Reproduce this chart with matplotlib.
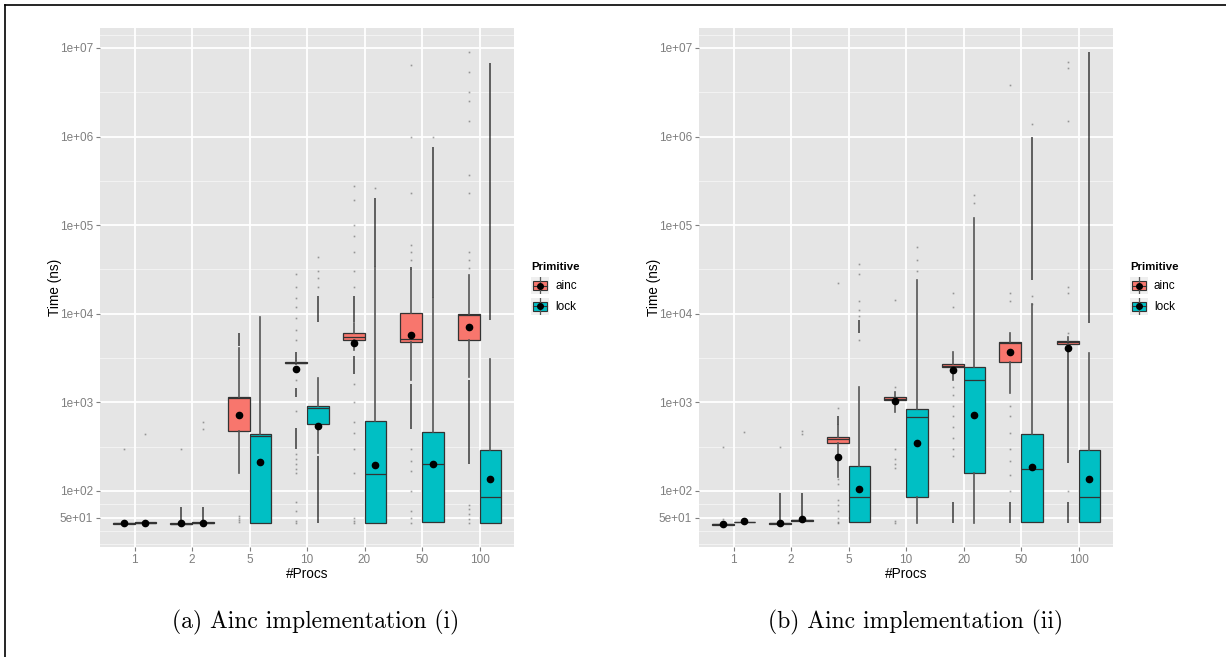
import numpy as np
import matplotlib
matplotlib.use("Agg")
import matplotlib.pyplot as plt
from matplotlib.lines import Line2D
from matplotlib.patches import Rectangle

plt.rcParams['font.family'] = ['Liberation Sans', 'DejaVu Sans']

procs = ["1", "2", "5", "10", "20", "50", "100"]
primitives = ["ainc", "lock"]
colors = {"ainc": "#F8766D", "lock": "#00BFC4"}
captions = ["(a) Ainc implementation (i)", "(b) Ainc implementation (ii)"]

# box stats per #procs: (whisker low, q1, median, q3, whisker high), in ns
a_ainc_stats = [(42.0, 42.5, 43.0, 43.5, 44.5), (41.5, 42.0, 42.5, 43.0, 44.0),
                (161, 478, 1112, 1160, 4070), (2700, 2780, 2805, 2830, 2900),
                (3900, 5060, 5430, 6030, 7800), (1780, 4840, 5130, 10100, 31000),
                (1950, 5060, 9680, 10050, 27500)]
a_ainc_mean = [43.8, 43.0, 726, 2360, 4640, 5710, 7140]
a_ainc_dense = [[], [(44, 66)], [(4300, 6000)],
                [(300, 520), (1150, 1450), (2950, 3700)],
                [(2100, 3300), (8000, 16000)], [(500, 1600), (31000, 34000)],
                [(200, 1800)]]
a_ainc_sparse = [[300], [298], [45, 47, 50, 52],
                 [44, 46, 60, 75, 160, 175, 200, 230, 260, 800, 1800, 5000,
                  6500, 9000, 12000, 15000, 20000, 28000],
                 [44, 46, 50, 160, 300, 450, 600, 1000, 1600, 20000, 30000,
                  50000, 75000, 100000, 190000, 280000],
                 [44, 50, 60, 100, 170, 220, 300, 40000, 50000, 60000, 230000,
                  1e6, 6.5e6],
                 [44, 48, 55, 62, 70, 33000, 40000, 50000, 230000, 370000,
                  1.5e6, 2.5e6, 3.2e6, 5.4e6, 9.1e6]]

a_lock_stats = [(43.0, 43.5, 44.0, 44.5, 45.0), (43.0, 43.5, 44.0, 44.5, 45.0),
                (43.8, 43.8, 418, 437, 9270), (270, 566, 865, 918, 1860),
                (43.8, 43.8, 154, 617, 33800), (45, 45, 200, 458, 15000),
                (43.8, 43.8, 85.5, 287, 3090)]
a_lock_mean = [44.0, 44.0, 214, 538, 195, 200, 138]
a_lock_dense = [[], [(45, 66)], [], [(44, 250), (8000, 16000)],
                [(33800, 200000)], [(15000, 770000)], [(8500, 6.7e6)]]
a_lock_sparse = [[440], [500, 600], [], [20000, 25000, 30000, 44000],
                 [260000], [1e6], []]

b_ainc_stats = [(41.5, 41.8, 42.0, 42.3, 42.6), (42.5, 42.8, 43.2, 43.6, 44.0),
                (145, 345, 383, 410, 556), (785, 1065, 1100, 1140, 1320),
                (1780, 2490, 2600, 2710, 3720), (1260, 2830, 4640, 4840, 6030),
                (3700, 4570, 4750, 4890, 5500)]
b_ainc_mean = [42.0, 44.0, 244, 1040, 2300, 3730, 4070]
b_ainc_dense = [[], [(44, 94)], [(560, 700)], [], [(44, 75)], [(44, 75)],
                [(44, 75), (206, 3700)]]
b_ainc_sparse = [[48, 311], [315], [44, 45, 50, 60, 70, 80, 120, 135, 855, 22000],
                 [44, 46, 180, 200, 230, 300, 1500, 14400],
                 [250, 300, 400, 530, 700, 900, 1200, 1500, 12000, 17000],
                 [100, 150, 220, 300, 450, 700, 900, 14000, 17000, 3.8e6],
                 [100, 6000, 17000, 20000, 1.5e6, 6e6, 7e6]]

b_lock_stats = [(44.0, 44.3, 44.7, 45.2, 45.5), (45.5, 46.0, 47.0, 47.5, 48.0),
                (45, 45, 86, 193, 1500), (44, 86, 690, 836, 24000),
                (44, 158, 1780, 2490, 120000), (45, 45, 177, 437, 12800),
                (45, 45, 85, 290, 3640)]
b_lock_mean = [45.5, 48.0, 106, 345, 726, 185, 138]
b_lock_dense = [[], [(48, 95)], [(6000, 8500)], [], [], [(24000, 1e6)],
                [(7800, 9e6)]]
b_lock_sparse = [[458], [440, 470], [5000, 9500, 11000, 14000, 28000, 36000],
                 [30000, 40000, 57000], [180000, 220000], [13000, 16000, 1.4e6], []]

panels = [
    {"ainc": (a_ainc_stats, a_ainc_mean, a_ainc_dense, a_ainc_sparse),
     "lock": (a_lock_stats, a_lock_mean, a_lock_dense, a_lock_sparse)},
    {"ainc": (b_ainc_stats, b_ainc_mean, b_ainc_dense, b_ainc_sparse),
     "lock": (b_lock_stats, b_lock_mean, b_lock_dense, b_lock_sparse)},
]

y_breaks = [50, 1e2, 1e3, 1e4, 1e5, 1e6, 1e7]
y_labels = ["5e+01", "1e+02", "1e+03", "1e+04", "1e+05", "1e+06", "1e+07"]

W, H = 1226, 657
fig = plt.figure(figsize=(W / 100, H / 100), dpi=100)


def px_rect(x0, y0, x1, y1):
    return [x0 / W, 1 - y1 / H, (x1 - x0) / W, (y1 - y0) / H]


def minor_breaks(breaks, lo, hi):
    # midpoints between majors in log space, extended one step past the ends
    b = list(np.log10(breaks))
    d = b[1] - b[0]
    b = [b[0] - d] + b + [b[-1] + d]
    out = []
    for u, v in zip(b[:-1], b[1:]):
        out += [u, (u + v) / 2, v]
    out = sorted(set(np.round(out, 6)) - set(np.round(np.log10(breaks), 6)))
    return [10 ** m for m in out if np.log10(lo) < m < np.log10(hi)]


def draw_panel(ax, data):
    ylo, yhi = 23.3, 1.68e7
    ax.set_facecolor("#E5E5E5")
    ax.set_yscale("log")
    ax.set_xlim(0.4, 7.6)
    ax.set_ylim(ylo, yhi)
    for y in minor_breaks(y_breaks, ylo, yhi):
        ax.axhline(y, color="#F2F2F2", lw=0.8, zorder=0)
    for y in y_breaks:
        ax.axhline(y, color="white", lw=1.3, zorder=0)
    x = np.arange(1, len(procs) + 1)
    for xi in x:
        ax.axvline(xi, color="white", lw=1.3, zorder=0)

    for k, prim in enumerate(primitives):
        stats, means, dense, sparse = data[prim]
        pos = x + (-0.1875 if k == 0 else 0.1875)
        for p, runs, pts in zip(pos, dense, sparse):
            for lo, hi in runs:
                ax.vlines(p, lo, hi, color="black", lw=1.1, alpha=0.75, zorder=1)
            if pts:
                ax.plot([p] * len(pts), pts, ls="none", marker="s", ms=1.2,
                        mec="none", mfc="black", alpha=0.35, zorder=1)
        bstats = [{"whislo": s[0], "q1": s[1], "med": s[2], "q3": s[3],
                   "whishi": s[4], "mean": m, "fliers": []}
                  for s, m in zip(stats, means)]
        ax.bxp(bstats, positions=pos, widths=0.375, patch_artist=True,
               showcaps=False, showfliers=False, showmeans=True, manage_ticks=False,
               boxprops=dict(facecolor=colors[prim], edgecolor="#333333", lw=0.9),
               whiskerprops=dict(color="#555555", lw=1.2),
               medianprops=dict(color="#333333", lw=0.9),
               meanprops=dict(marker="o", markerfacecolor="black",
                              markeredgecolor="black", markersize=4.5),
               zorder=2)

    ax.set_xticks(x)
    ax.set_xticklabels(procs)
    ax.set_yticks(y_breaks)
    ax.set_yticklabels(y_labels)
    ax.yaxis.set_minor_locator(matplotlib.ticker.NullLocator())
    ax.tick_params(axis="both", length=3, width=0.8, color="#7F7F7F",
                   labelcolor="#7F7F7F", labelsize=8.5, pad=2)
    for s in ax.spines.values():
        s.set_visible(False)


def draw_legend(x0, y0):
    fig.text(x0 / W, 1 - y0 / H, "Primitive", fontsize=8.2, fontweight="bold",
             ha="left", va="center")
    for i, prim in enumerate(primitives):
        top = y0 + 10 + i * 21
        kax = fig.add_axes(px_rect(x0, top, x0 + 18, top + 17))
        kax.set_xlim(0, 1)
        kax.set_ylim(0, 1)
        kax.set_facecolor("#EFEFEF")
        kax.set_xticks([])
        kax.set_yticks([])
        for s in kax.spines.values():
            s.set_visible(False)
        kax.add_line(Line2D([0.5, 0.5], [0, 1], color="#555555", lw=0.9))
        kax.add_patch(Rectangle((0.1, 0.22), 0.8, 0.56, facecolor=colors[prim],
                                edgecolor="#333333", lw=0.8))
        kax.add_line(Line2D([0.1, 0.9], [0.5, 0.5], color="#333333", lw=0.8))
        kax.plot([0.5], [0.5], marker="o", color="black", ms=4)
        fig.text((x0 + 24) / W, 1 - (top + 8.5) / H, prim, fontsize=8.5,
                 ha="left", va="center")


panel_x = [(100, 514), (699, 1113)]
legend_x = [531, 1130]
caption_x = [316, 916]

for i, (x0, x1) in enumerate(panel_x):
    ax = fig.add_axes(px_rect(x0, 28, x1, 547))
    draw_panel(ax, panels[i])
    fig.text((x0 - 45) / W, 1 - 287 / H, "Time (ns)", rotation=90, fontsize=9.8,
             ha="center", va="center")
    fig.text((x0 + x1) / 2 / W, 1 - 574 / H, "#Procs", fontsize=9.8,
             ha="center", va="center")
    draw_legend(legend_x[i], 267)
    fig.text(caption_x[i] / W, 1 - 622 / H, captions[i], fontfamily="cmr10",
             fontsize=17, ha="center", va="center")

# frame lines along the top and left edges
fig.add_artist(Line2D([5 / W, 1], [1 - 4.5 / H, 1 - 4.5 / H], color="black", lw=1.2))
fig.add_artist(Line2D([5 / W, 5 / W], [0, 1 - 4.5 / H], color="black", lw=1.2))

fig.savefig("out.png", dpi=100)
